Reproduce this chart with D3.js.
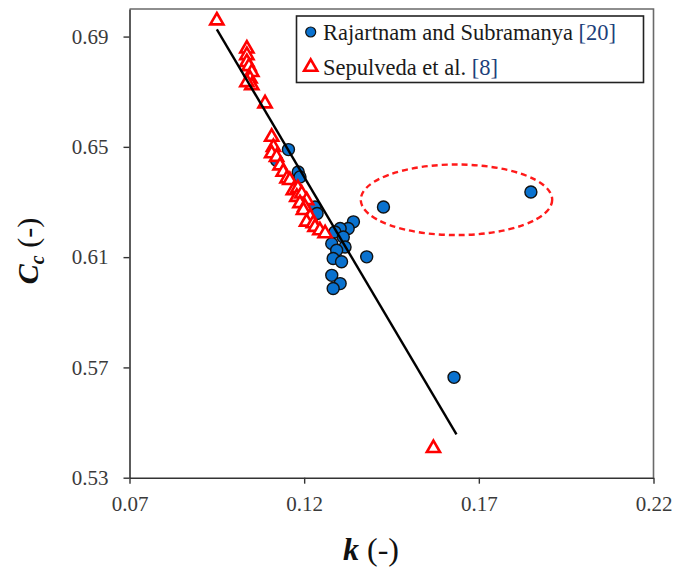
<!DOCTYPE html>
<html>
<head>
<meta charset="utf-8">
<script src="https://cdn.jsdelivr.net/npm/d3@7"></script>
<style>
  body { margin: 0; background: #fff; }
  svg text { font-family: "Liberation Serif", "Times New Roman", serif; }
</style>
</head>
<body>
<div id="chart"></div>
<script>
// Rajaratnam and Subramanya [20] (blue circles)
const rajK  = [0.1155, 0.1121, 0.1183, 0.1188, 0.1231, 0.1237, 0.1341, 0.1326, 0.1303, 0.1288,
               0.1312, 0.1279, 0.1317, 0.1293, 0.1283, 0.1307, 0.1379, 0.1279, 0.1303, 0.1283,
               0.1427, 0.1849, 0.1629];
const rajCc = [0.6490, 0.6451, 0.6409, 0.6391, 0.6282, 0.6258, 0.6228, 0.6204, 0.6204, 0.6191,
               0.6173, 0.6149, 0.6137, 0.6125, 0.6095, 0.6083, 0.6101, 0.6034, 0.6004, 0.5986,
               0.6282, 0.6336, 0.5664];

// Sepulveda et al. [8] (red triangles)
const sepK  = [0.0950, 0.1036, 0.1036, 0.1036, 0.1042, 0.1050, 0.1045, 0.1050, 0.1036, 0.1088,
               0.1107, 0.1112, 0.1107, 0.1121, 0.1131, 0.1140, 0.1151, 0.1159, 0.1169, 0.1182,
               0.1179, 0.1193, 0.1207, 0.1188, 0.1202, 0.1198, 0.1217, 0.1207, 0.1226, 0.1231,
               0.1245, 0.1260, 0.1570];
const sepCc = [0.6958, 0.6856, 0.6832, 0.6807, 0.6792, 0.6771, 0.6747, 0.6723, 0.6734, 0.6657,
               0.6536, 0.6499, 0.6476, 0.6463, 0.6432, 0.6409, 0.6385, 0.6379, 0.6342, 0.6350,
               0.6318, 0.6330, 0.6306, 0.6295, 0.6282, 0.6270, 0.6246, 0.6228, 0.6222, 0.6209,
               0.6197, 0.6186, 0.5407];

// fitted line end points
const fitK  = [0.0950, 0.1636];
const fitCc = [0.6926, 0.5457];

// outlier ellipse (centre and half-axes, data units)
const ellK  = [0.1636, 0.0274];
const ellCc = [0.6308, 0.0128];

const xTicks = [0.07, 0.12, 0.17, 0.22];
const yTicks = [0.53, 0.57, 0.61, 0.65, 0.69];
const legendLabels = [["Rajartnam and Subramanya ", "[20]"], ["Sepulveda et al. ", "[8]"]];

const width = 688, height = 570;
const margin = {top: 9, right: 34.5, bottom: 92.3, left: 129.5};

const svg = d3.select("#chart").append("svg")
    .attr("width", width)
    .attr("height", height);

svg.append("rect").attr("width", width).attr("height", height).attr("fill", "#fff");

const x = d3.scaleLinear().domain([0.07, 0.22]).range([margin.left, width - margin.right]);
const y = d3.scaleLinear().domain([0.53, 0.70]).range([height - margin.bottom, margin.top]);

// top / right frame
svg.append("path")
    .attr("d", `M${x(0.07)},${y(0.70)}H${x(0.22)}V${y(0.53)}`)
    .attr("fill", "none")
    .attr("stroke", "#6a6a6a")
    .attr("stroke-width", 1.6);

const xAxis = svg.append("g")
    .attr("transform", `translate(0,${y(0.53)})`)
    .call(d3.axisBottom(x).tickValues(xTicks).tickSize(6).tickPadding(12).tickSizeOuter(0)
        .tickFormat(d3.format(".2f")));
const yAxis = svg.append("g")
    .attr("transform", `translate(${x(0.07)},0)`)
    .call(d3.axisLeft(y).tickValues(yTicks).tickSize(6).tickPadding(15).tickSizeOuter(0)
        .tickFormat(d3.format(".2f")));

[xAxis, yAxis].forEach(a => {
  a.select(".domain").attr("stroke", "#333").attr("stroke-width", 1.6);
  a.selectAll(".tick line").attr("stroke", "#333").attr("stroke-width", 1.4);
  a.selectAll(".tick text")
    .attr("fill", "#3a3a3a")
    .style("font-family", "'Liberation Serif', serif")
    .style("font-size", "21px");
});

// ellipse
svg.append("ellipse")
    .attr("cx", x(ellK[0]))
    .attr("cy", y(ellCc[0]))
    .attr("rx", x(ellK[0] + ellK[1]) - x(ellK[0]))
    .attr("ry", y(ellCc[0]) - y(ellCc[0] + ellCc[1]))
    .attr("fill", "none")
    .attr("stroke", "#ff1a1a")
    .attr("stroke-width", 2.4)
    .attr("stroke-dasharray", "6,4");

// circles
svg.append("g").selectAll("circle")
    .data(d3.zip(rajK, rajCc))
    .join("circle")
    .attr("cx", d => x(d[0]))
    .attr("cy", d => y(d[1]))
    .attr("r", 6)
    .attr("fill", "#0a72cf")
    .attr("stroke", "#111")
    .attr("stroke-width", 1.4);

// triangles
const tri = d3.symbol().type(d3.symbolTriangle).size(75);
svg.append("g").selectAll("path")
    .data(d3.zip(sepK, sepCc))
    .join("path")
    .attr("transform", d => `translate(${x(d[0])},${y(d[1])})`)
    .attr("d", tri)
    .attr("fill", "#fff")
    .attr("stroke", "#ff0000")
    .attr("stroke-width", 2.6)
    .attr("stroke-linejoin", "miter");

// fitted line
svg.append("path")
    .datum(d3.zip(fitK, fitCc))
    .attr("d", d3.line().x(d => x(d[0])).y(d => y(d[1])))
    .attr("fill", "none")
    .attr("stroke", "#000")
    .attr("stroke-width", 2.4);

// legend
const lg = svg.append("g");
lg.append("rect")
    .attr("x", 296.5).attr("y", 16).attr("width", 347).attr("height", 66.5)
    .attr("fill", "#fff").attr("stroke", "#222").attr("stroke-width", 1.6);
lg.append("circle")
    .attr("cx", 310.7).attr("cy", 32).attr("r", 5)
    .attr("fill", "#0a72cf").attr("stroke", "#111").attr("stroke-width", 1.2);
lg.append("path")
    .attr("transform", "translate(310.7,67)")
    .attr("d", tri)
    .attr("fill", "#fff").attr("stroke", "#ff0000").attr("stroke-width", 2.6);
legendLabels.forEach((lab, i) => {
  const t = lg.append("text")
      .attr("x", 323).attr("y", 40 + i * 35)
      .attr("font-size", 22.5)
      .attr("fill", "#1a1a1a");
  t.append("tspan").text(lab[0]);
  t.append("tspan").attr("fill", "#1d3f7a").text(lab[1]);
});

// axis titles
const xt = svg.append("text")
    .attr("x", 343).attr("y", 560)
    .attr("font-size", 32)
    .attr("fill", "#111");
xt.append("tspan").attr("font-weight", "bold").attr("font-style", "italic").text("k");
xt.append("tspan").text(" (-)");

const yt = svg.append("text")
    .attr("transform", "translate(38,251) rotate(-90)")
    .attr("text-anchor", "middle")
    .attr("font-size", 30)
    .attr("fill", "#111");
yt.append("tspan").attr("font-weight", "bold").attr("font-style", "italic").text("C");
yt.append("tspan").attr("font-weight", "bold").attr("font-style", "italic")
    .attr("font-size", 20).attr("dy", 6).text("c");
yt.append("tspan").attr("dy", -6).text(" (-)");
</script>
</body>
</html>
